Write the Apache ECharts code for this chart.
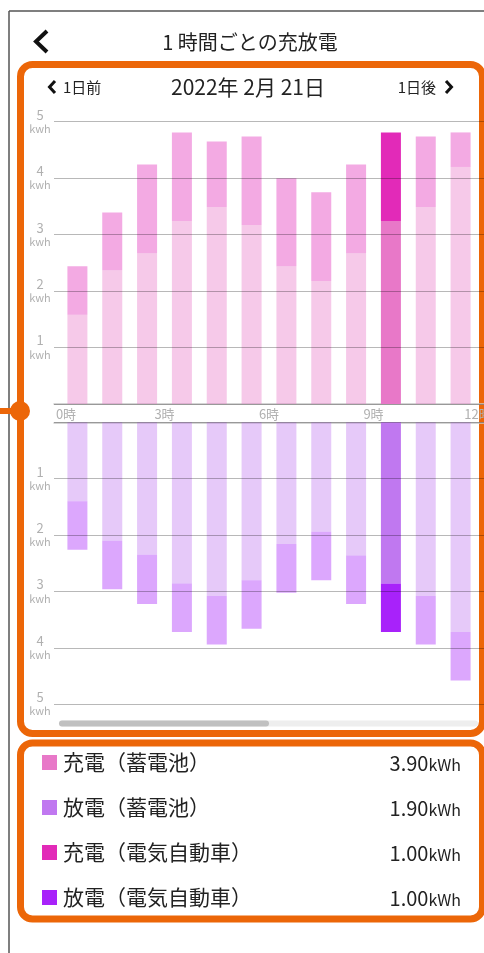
<!DOCTYPE html>
<html>
<head>
<meta charset="utf-8">
<script src="https://cdn.jsdelivr.net/npm/echarts@6/dist/echarts.min.js"></script>
<style>
  html, body { margin: 0; padding: 0; background: #fff; }
  #chart { width: 484px; height: 953px; }
</style>
</head>
<body>
<div id="chart"></div>
<script>
// 時間 (0時〜11時 の棒)
const hours = [0, 1, 2, 3, 4, 5, 6, 7, 8, 9, 10, 11];
// 充電（蓄電池）
const chargeBattery = [1.58, 2.37, 2.67, 3.24, 3.49, 3.17, 2.44, 2.18, 2.67, 3.24, 3.49, 4.2];
// 充電（電気自動車）
const chargeEv = [0.86, 1.02, 1.57, 1.57, 1.16, 1.57, 1.56, 1.57, 1.57, 1.57, 1.25, 0.61];
// 放電（蓄電池）
const dischargeBattery = [1.4, 2.1, 2.35, 2.86, 3.08, 2.8, 2.16, 1.94, 2.36, 2.86, 3.08, 3.72];
// 放電（電気自動車）
const dischargeEv = [0.86, 0.86, 0.87, 0.86, 0.86, 0.86, 0.86, 0.86, 0.86, 0.86, 0.86, 0.86];
const selectedHour = 9;
const hourTicks = [0, 3, 6, 9, 12];

const legendNames = ['充電（蓄電池）', '放電（蓄電池）', '充電（電気自動車）', '放電（電気自動車）'];
const legendTotals = ['3.90', '1.90', '1.00', '1.00'];

const title = '1 時間ごとの充放電';
const dateText = '2022年 2月 21日';

const colors = ['#e878c8', '#c078f0', '#e22ab8', '#a822fa'];
const orange = '#ec6608';
const font = '"Noto Sans CJK JP", "Noto Sans", sans-serif';

const myechart = echarts.init(document.getElementById('chart'));

// [値, 時間中央] の順にして、積み上げが値の次元に掛かるようにする
function barData(values) {
  return values.map((v, i) => ({
    value: [v, hours[i] + 0.5],
    itemStyle: { opacity: hours[i] === selectedHour ? 1 : 0.4 },
  }));
}

function yLabel(v) {
  if (v === 0) return '';
  return '{n|' + v + '}\n{u|kwh}';
}

const yAxisBase = {
  type: 'value',
  min: 0,
  max: 5,
  interval: 1,
  z: 3,
  axisLine: { show: false },
  axisTick: { show: false },
  splitLine: { lineStyle: { color: 'rgba(0,0,0,0.28)', width: 1 } },
  axisLabel: {
    align: 'center',
    margin: 14,
    formatter: yLabel,
    rich: {
      n: { fontSize: 13, color: '#b0b0b0', lineHeight: 14, fontFamily: font, align: 'center' },
      u: { fontSize: 11, color: '#b0b0b0', lineHeight: 14, fontFamily: font, align: 'center' },
    },
  },
};

// 画面の部品（枠・見出し・凡例・スクロールバー）
const graphics = [
  { type: 'line', z: -20, shape: { x1: 9, y1: 11, x2: 9, y2: 953 }, style: { stroke: '#555', lineWidth: 1.5 } },
  { type: 'line', z: -20, shape: { x1: 9, y1: 11, x2: 484, y2: 11 }, style: { stroke: '#555', lineWidth: 1.5 } },
  { type: 'polyline', shape: { points: [[47, 31], [36, 41.5], [47, 52]] }, style: { stroke: '#111', lineWidth: 4, fill: null } },
  { type: 'text', x: 250, y: 42, style: { text: title, font: '20px ' + font, fill: '#222', align: 'center', verticalAlign: 'middle' } },
  { type: 'rect', z: -10, shape: { x: 20.5, y: 64.5, width: 462, height: 669, r: 12 }, style: { fill: '#fff', stroke: orange, lineWidth: 7 } },
  { type: 'rect', z: -10, shape: { x: 20.5, y: 743, width: 462, height: 176, r: 12 }, style: { fill: '#fff', stroke: orange, lineWidth: 7 } },
  { type: 'line', z: -5, shape: { x1: 0, y1: 411, x2: 20, y2: 411 }, style: { stroke: orange, lineWidth: 6 } },
  { type: 'circle', z: -5, shape: { cx: 20, cy: 411, r: 10 }, style: { fill: orange } },
  { type: 'polyline', shape: { points: [[55, 81], [49.5, 87], [55, 93]] }, style: { stroke: '#111', lineWidth: 3, fill: null } },
  { type: 'text', x: 63, y: 87, style: { text: '1日前', font: '15px ' + font, fill: '#222', verticalAlign: 'middle' } },
  { type: 'text', x: 248, y: 87, style: { text: dateText, font: '21px ' + font, fill: '#222', align: 'center', verticalAlign: 'middle' } },
  { type: 'text', x: 436, y: 87, style: { text: '1日後', font: '15px ' + font, fill: '#222', align: 'right', verticalAlign: 'middle' } },
  { type: 'polyline', shape: { points: [[446, 81], [451.5, 87], [446, 93]] }, style: { stroke: '#111', lineWidth: 3, fill: null } },
  { type: 'rect', shape: { x: 59, y: 720.5, width: 419, height: 6, r: 3 }, style: { fill: '#eeeeee' } },
  { type: 'rect', shape: { x: 59, y: 720.5, width: 210, height: 6, r: 3 }, style: { fill: '#c0c0c0' } },
];

legendNames.forEach((name, i) => {
  const cy = 762.5 + i * 45;
  graphics.push({ type: 'rect', shape: { x: 42, y: cy - 7.5, width: 15, height: 15 }, style: { fill: colors[i] } });
  graphics.push({ type: 'text', x: 63, y: cy, style: { text: name, font: '21px ' + font, fill: '#222', verticalAlign: 'middle' } });
  graphics.push({
    type: 'text', x: 461, y: cy + 1,
    style: {
      text: '{v|' + legendTotals[i] + '}{u|kWh}',
      align: 'right',
      verticalAlign: 'middle',
      rich: {
        v: { font: '20px ' + font, fill: '#222' },
        u: { font: '16px ' + font, fill: '#222', padding: [3, 0, 0, 0] },
      },
    },
  });
});

function barSeries(name, values, color, axisIndex, stack) {
  return {
    name: name,
    type: 'bar',
    xAxisIndex: axisIndex,
    yAxisIndex: axisIndex,
    stack: stack,
    barWidth: 20,
    encode: { x: 1, y: 0 },
    itemStyle: { color: color },
    data: barData(values),
  };
}

const option = {
  animation: false,
  backgroundColor: '#fff',
  grid: [
    { left: 54, right: 0, top: 121.7, height: 282.3, outerBoundsMode: 'none' },
    { left: 54, right: 0, top: 422.3, height: 282, outerBoundsMode: 'none' },
  ],
  xAxis: [
    {
      type: 'value',
      gridIndex: 0,
      min: -0.172,
      max: 12.172,
      position: 'bottom',
      axisLine: { show: true, lineStyle: { color: '#c8c8c8', width: 1.5 } },
      axisTick: { show: false },
      splitLine: { show: false },
      axisLabel: {
        customValues: hourTicks,
        margin: 4,
        color: '#b0b0b0',
        fontSize: 13,
        fontFamily: font,
        formatter: (v) => (v === 0 ? '{a|' + v + '時}' : v + '時'),
        rich: { a: { fontSize: 13, color: '#b0b0b0', fontFamily: font, padding: [0, 0, 0, 12] } },
      },
    },
    {
      type: 'value',
      gridIndex: 1,
      min: -0.172,
      max: 12.172,
      position: 'top',
      axisLine: { show: true, lineStyle: { color: '#c8c8c8', width: 1.5 } },
      axisTick: { show: false },
      splitLine: { show: false },
      axisLabel: { show: false },
    },
  ],
  yAxis: [
    Object.assign({}, yAxisBase, { gridIndex: 0 }),
    Object.assign({}, yAxisBase, { gridIndex: 1, inverse: true }),
  ],
  series: [
    barSeries(legendNames[0], chargeBattery, colors[0], 0, 'charge'),
    barSeries(legendNames[2], chargeEv, colors[2], 0, 'charge'),
    barSeries(legendNames[1], dischargeBattery, colors[1], 1, 'discharge'),
    barSeries(legendNames[3], dischargeEv, colors[3], 1, 'discharge'),
  ],
  graphic: graphics,
};

myechart.setOption(option);
window.addEventListener('resize', () => myechart.resize());
</script>
</body>
</html>
